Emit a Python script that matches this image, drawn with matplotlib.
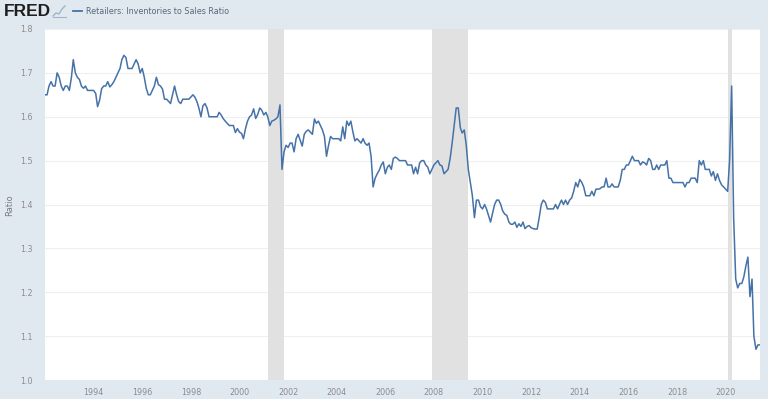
import matplotlib
matplotlib.use("Agg")
import matplotlib.pyplot as plt
import numpy as np
import pandas as pd
from matplotlib.lines import Line2D

# Retailers: Inventories to Sales Ratio, monthly from 1992-01
ratio_1990s = [
    1.65, 1.65, 1.67, 1.68, 1.67, 1.67, 1.70, 1.69, 1.67, 1.66, 1.67, 1.67,
    1.66, 1.69, 1.73, 1.70, 1.69, 1.685, 1.67, 1.665, 1.67, 1.66, 1.66, 1.66,
    1.66, 1.653, 1.623, 1.638, 1.664, 1.67, 1.67, 1.68, 1.668, 1.673, 1.68, 1.69,
    1.70, 1.71, 1.73, 1.74, 1.735, 1.71, 1.71, 1.71, 1.72, 1.73, 1.72, 1.70,
    1.71, 1.69, 1.665, 1.65, 1.65, 1.66, 1.67, 1.69, 1.673, 1.67, 1.663, 1.64,
    1.64, 1.635, 1.63, 1.65, 1.67, 1.65, 1.635, 1.63, 1.64, 1.64, 1.64, 1.64,
    1.645, 1.65, 1.645, 1.635, 1.62, 1.60, 1.625, 1.63, 1.62, 1.60, 1.60, 1.60,
    1.60, 1.60, 1.61, 1.604, 1.596, 1.59, 1.585, 1.58, 1.58, 1.58, 1.564, 1.573,
]
ratio_2000s = [
    1.565, 1.562, 1.55, 1.573, 1.59, 1.60, 1.604, 1.618, 1.596, 1.605, 1.62, 1.615,
    1.604, 1.61, 1.60, 1.58, 1.59, 1.592, 1.595, 1.60, 1.627, 1.48, 1.52, 1.535,
    1.53, 1.54, 1.54, 1.52, 1.55, 1.56, 1.547, 1.533, 1.56, 1.567, 1.57, 1.565,
    1.56, 1.595, 1.585, 1.59, 1.58, 1.57, 1.555, 1.51, 1.535, 1.555, 1.55, 1.55,
    1.55, 1.55, 1.545, 1.577, 1.55, 1.59, 1.58, 1.59, 1.565, 1.545, 1.55, 1.545,
    1.54, 1.55, 1.54, 1.535, 1.54, 1.51, 1.44, 1.46, 1.47, 1.478, 1.49, 1.497,
    1.47, 1.485, 1.49, 1.48, 1.505, 1.508, 1.505, 1.50, 1.50, 1.50, 1.50, 1.49,
    1.49, 1.49, 1.47, 1.485, 1.47, 1.495, 1.50, 1.50, 1.49, 1.485, 1.47, 1.48,
    1.49, 1.495, 1.50, 1.49, 1.488, 1.47, 1.475, 1.48, 1.505, 1.54, 1.58, 1.62,
    1.62, 1.575, 1.563, 1.57, 1.535, 1.48, 1.45, 1.42, 1.37, 1.41, 1.41, 1.395,
]
ratio_2010s = [
    1.39, 1.40, 1.39, 1.375, 1.36, 1.38, 1.40, 1.41, 1.41, 1.40, 1.385, 1.378,
    1.375, 1.36, 1.355, 1.355, 1.36, 1.348, 1.356, 1.35, 1.36, 1.345, 1.35, 1.352,
    1.347, 1.345, 1.344, 1.344, 1.37, 1.40, 1.41, 1.405, 1.39, 1.39, 1.39, 1.39,
    1.40, 1.39, 1.40, 1.41, 1.40, 1.41, 1.40, 1.41, 1.415, 1.43, 1.45, 1.44,
    1.457, 1.45, 1.44, 1.42, 1.42, 1.42, 1.43, 1.42, 1.435, 1.435, 1.436, 1.44,
    1.44, 1.46, 1.44, 1.44, 1.447, 1.44, 1.44, 1.44, 1.455, 1.48, 1.48, 1.49,
    1.49, 1.50, 1.51, 1.50, 1.50, 1.50, 1.49, 1.497, 1.495, 1.49, 1.505, 1.50,
    1.48, 1.48, 1.49, 1.48, 1.49, 1.49, 1.49, 1.50, 1.46, 1.46, 1.45, 1.45,
    1.45, 1.45, 1.45, 1.45, 1.44, 1.45, 1.45, 1.46, 1.46, 1.46, 1.45, 1.50,
    1.49, 1.50, 1.48, 1.48, 1.48, 1.465, 1.475, 1.455, 1.47, 1.455, 1.445, 1.44,
]
ratio_2020s = [
    1.435, 1.43, 1.50, 1.67, 1.37, 1.23, 1.21, 1.22, 1.22, 1.235, 1.26, 1.28,
    1.19, 1.23, 1.10, 1.07, 1.08, 1.08,
]

recessions = [("2001-03-01", "2001-11-01"), ("2007-12-01", "2009-06-01"), ("2020-02-01", "2020-04-01")]
tick_years = list(range(1994, 2021, 2))
y_ticks = [1.0, 1.1, 1.2, 1.3, 1.4, 1.5, 1.6, 1.7, 1.8]

ratio = np.array(ratio_1990s + ratio_2000s + ratio_2010s + ratio_2020s)
dates = pd.date_range("1992-01-01", periods=len(ratio), freq="MS")

W, H = 768, 399
bg = "#e1e9f0"
line_color = "#4572a7"

fig = plt.figure(figsize=(W / 100, H / 100), dpi=100, facecolor=bg)
ax = fig.add_axes([45 / W, 19 / H, 715 / W, 351 / H])
ax.set_facecolor("white")

for start, end in recessions:
    ax.axvspan(pd.Timestamp(start), pd.Timestamp(end), color="#e1e1e1", lw=0)

ax.plot(dates, ratio, color=line_color, lw=1.1, zorder=3)

ax.set_xlim(dates[0], dates[-1])
ax.set_ylim(1.0, 1.8)
ax.set_yticks(y_ticks)
ax.set_yticklabels([f"{v:.1f}" for v in y_ticks])
ax.set_xticks([pd.Timestamp(f"{y}-01-01") for y in tick_years])
ax.set_xticklabels([str(y) for y in tick_years])

ax.set_axisbelow(True)
ax.grid(axis="y", color="#efefef", lw=0.8)
ax.grid(axis="x", visible=False)
for s in ax.spines.values():
    s.set_visible(False)
ax.tick_params(axis="both", length=0, colors="#8c8c8c", labelsize=5.8)
ax.tick_params(axis="y", pad=9)
ax.tick_params(axis="x", pad=6)

fig.text(10 / W, 1 - 205 / H, "Ratio", rotation=90, ha="center", va="center",
         fontsize=6, color="#7a7a7a")

# header: FRED logo and legend entry
fig.text(4 / W, 1 - 11 / H, "FRED", fontsize=12.5, fontweight="bold",
         family="Liberation Sans", color="#1f1f1f", va="center", ha="left")
icon_x = np.array([53, 56, 59, 62, 65]) / W
icon_y = 1 - np.array([16, 13, 14, 9, 6]) / H
fig.add_artist(Line2D(icon_x, icon_y, color="#9fb4c8", lw=1.0))
fig.add_artist(Line2D([53 / W, 66 / W], [1 - 17 / H, 1 - 17 / H], color="#9fb4c8", lw=0.8))
fig.add_artist(Line2D([73 / W, 82 / W], [1 - 11 / H, 1 - 11 / H], color=line_color, lw=1.3))
fig.text(86 / W, 1 - 11 / H, "Retailers: Inventories to Sales Ratio", fontsize=5.8,
         color="#5a6878", va="center", ha="left")

fig.savefig("out.png", dpi=100, facecolor=bg)
